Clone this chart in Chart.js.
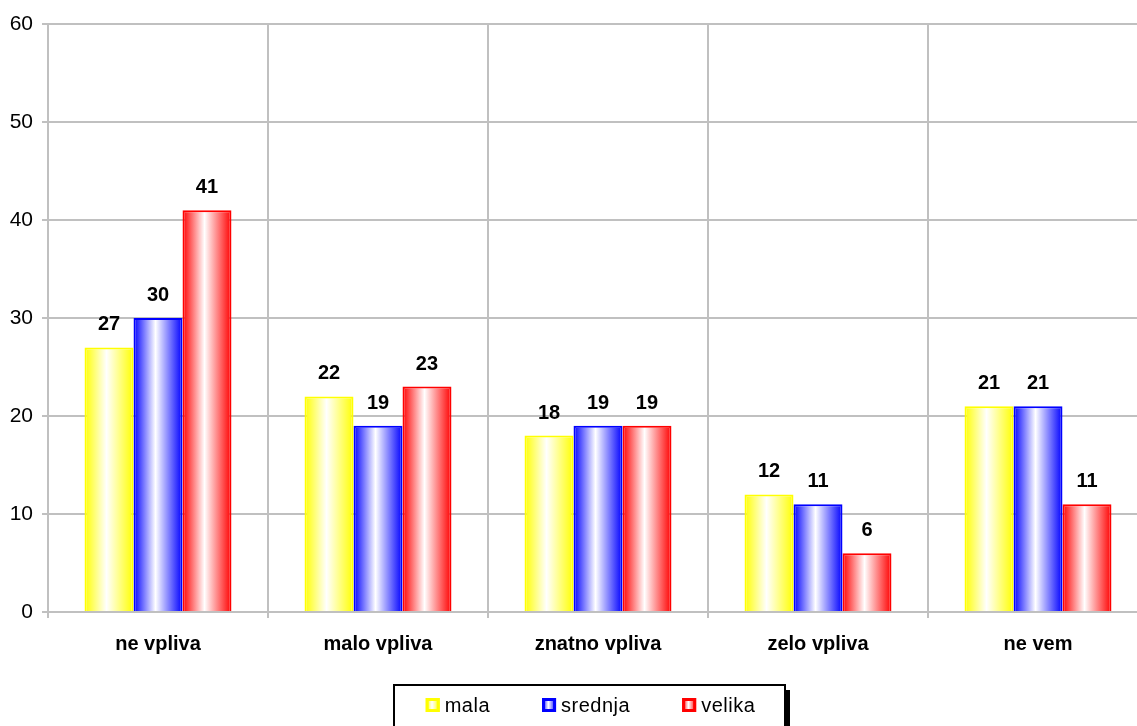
<!DOCTYPE html>
<html>
<head>
<meta charset="utf-8">
<script src="https://cdn.jsdelivr.net/npm/chart.js@4/dist/chart.umd.min.js"></script>
<style>
    html, body { margin: 0; padding: 0; background: #ffffff; overflow: hidden; }
    #wrap { width: 1137px; height: 726px; overflow: hidden; }
</style>
</head>
<body>
<div id="wrap"><canvas id="chart" width="1148" height="726"></canvas></div>
<script>
const categories = ["ne vpliva", "malo vpliva", "znatno vpliva", "zelo vpliva", "ne vem"];
const seriesNames = ["mala", "srednja", "velika"];
const mala = [27, 22, 18, 12, 21];
const srednja = [30, 19, 19, 11, 21];
const velika = [41, 23, 19, 6, 11];
const yTicks = [0, 10, 20, 30, 40, 50, 60];

const colors = ["#ffff00", "#0000ff", "#ff0000"];
const FONT = "'Liberation Sans', Arial, sans-serif";
const CAT_PCT = 0.668;

function fadeFill(ctx2d, left, width, color) {
    const g = ctx2d.createLinearGradient(left, 0, left + width, 0);
    g.addColorStop(0, color);
    g.addColorStop(0.45, "#ffffff");
    g.addColorStop(1, color);
    return g;
}

function barFill(context) {
    const chart = context.chart;
    const color = colors[context.datasetIndex];
    const x = chart.scales.x;
    if (!chart.chartArea || !x || context.type !== "data") {
        return color;
    }
    const catW = x.width / categories.length;
    const groupW = catW * CAT_PCT;
    const barW = groupW / 3;
    const left = x.getPixelForValue(context.dataIndex) - groupW / 2 + context.datasetIndex * barW;
    return fadeFill(chart.ctx, left, barW, color);
}

// value labels above the bars
const valueLabels = {
    id: "valueLabels",
    afterDatasetsDraw(chart) {
        const ctx = chart.ctx;
        ctx.save();
        ctx.font = "bold 20px " + FONT;
        ctx.fillStyle = "#000000";
        ctx.textAlign = "center";
        ctx.textBaseline = "alphabetic";
        chart.data.datasets.forEach((ds, di) => {
            chart.getDatasetMeta(di).data.forEach((bar, i) => {
                ctx.fillText(String(ds.data[i]), bar.x, bar.y - 17);
            });
        });
        ctx.restore();
    },
};

// boxed legend with a drop shadow at the bottom
const boxLegend = {
    id: "boxLegend",
    afterDraw(chart) {
        const ctx = chart.ctx;
        const boxL = 394, boxT = 685, boxW = 391, boxH = 46;
        ctx.save();
        ctx.fillStyle = "#000000";
        ctx.fillRect(boxL + 5, boxT + 5, boxW, boxH);
        ctx.fillStyle = "#ffffff";
        ctx.fillRect(boxL, boxT, boxW, boxH);
        ctx.strokeStyle = "#000000";
        ctx.lineWidth = 2;
        ctx.strokeRect(boxL, boxT, boxW, boxH);

        ctx.font = "20px " + FONT;
        ctx.letterSpacing = "0.5px";
        const sw = 14, gapText = 5, gapItem = 52;
        const widths = seriesNames.map((n) => sw + gapText + ctx.measureText(n).width);
        const total = widths.reduce((a, b) => a + b, 0) + gapItem * (seriesNames.length - 1);
        let x = boxL + (boxW - total) / 2 + 1;
        const cy = 705;
        seriesNames.forEach((name, i) => {
            ctx.fillStyle = fadeFill(ctx, x, sw, colors[i]);
            ctx.fillRect(x, cy - sw / 2, sw, sw);
            ctx.strokeStyle = colors[i];
            ctx.lineWidth = 3;
            ctx.strokeRect(x + 1.5, cy - sw / 2 + 1.5, sw - 3, sw - 3);
            ctx.fillStyle = "#000000";
            ctx.textAlign = "left";
            ctx.textBaseline = "middle";
            ctx.fillText(name, x + sw + gapText, cy + 1);
            x += widths[i] + gapItem;
        });
        ctx.restore();
    },
};

new Chart(document.getElementById("chart"), {
    type: "bar",
    data: {
        labels: categories,
        datasets: [
            { label: seriesNames[0], data: mala },
            { label: seriesNames[1], data: srednja },
            { label: seriesNames[2], data: velika },
        ].map((ds, i) => ({
            ...ds,
            backgroundColor: barFill,
            borderColor: colors[i],
            borderWidth: 2,
            borderSkipped: "start",
            categoryPercentage: CAT_PCT,
            barPercentage: 1,
        })),
    },
    options: {
        responsive: false,
        animation: false,
        layout: { padding: { top: 24, right: 0, bottom: 0, left: 0 } },
        plugins: {
            legend: { display: false },
            tooltip: { enabled: false },
        },
        scales: {
            x: {
                afterFit(scale) { scale.height = 114; },
                grid: {
                    offset: true,
                    color: "#c0c0c0",
                    lineWidth: 2,
                    tickLength: 6,
                },
                border: { color: "#c0c0c0", width: 2 },
                ticks: {
                    color: "#000000",
                    padding: 14,
                    font: { family: FONT, size: 20, weight: "bold" },
                },
            },
            y: {
                min: 0,
                max: 60,
                afterFit(scale) { scale.width = 48; },
                afterBuildTicks(scale) { scale.ticks = yTicks.map((v) => ({ value: v })); },
                grid: {
                    color: "#c0c0c0",
                    lineWidth: 2,
                    tickLength: 6,
                },
                border: { color: "#c0c0c0", width: 2 },
                ticks: {
                    color: "#000000",
                    padding: 9,
                    font: { family: FONT, size: 21 },
                },
            },
        },
    },
    plugins: [valueLabels, boxLegend],
});
</script>
</body>
</html>
